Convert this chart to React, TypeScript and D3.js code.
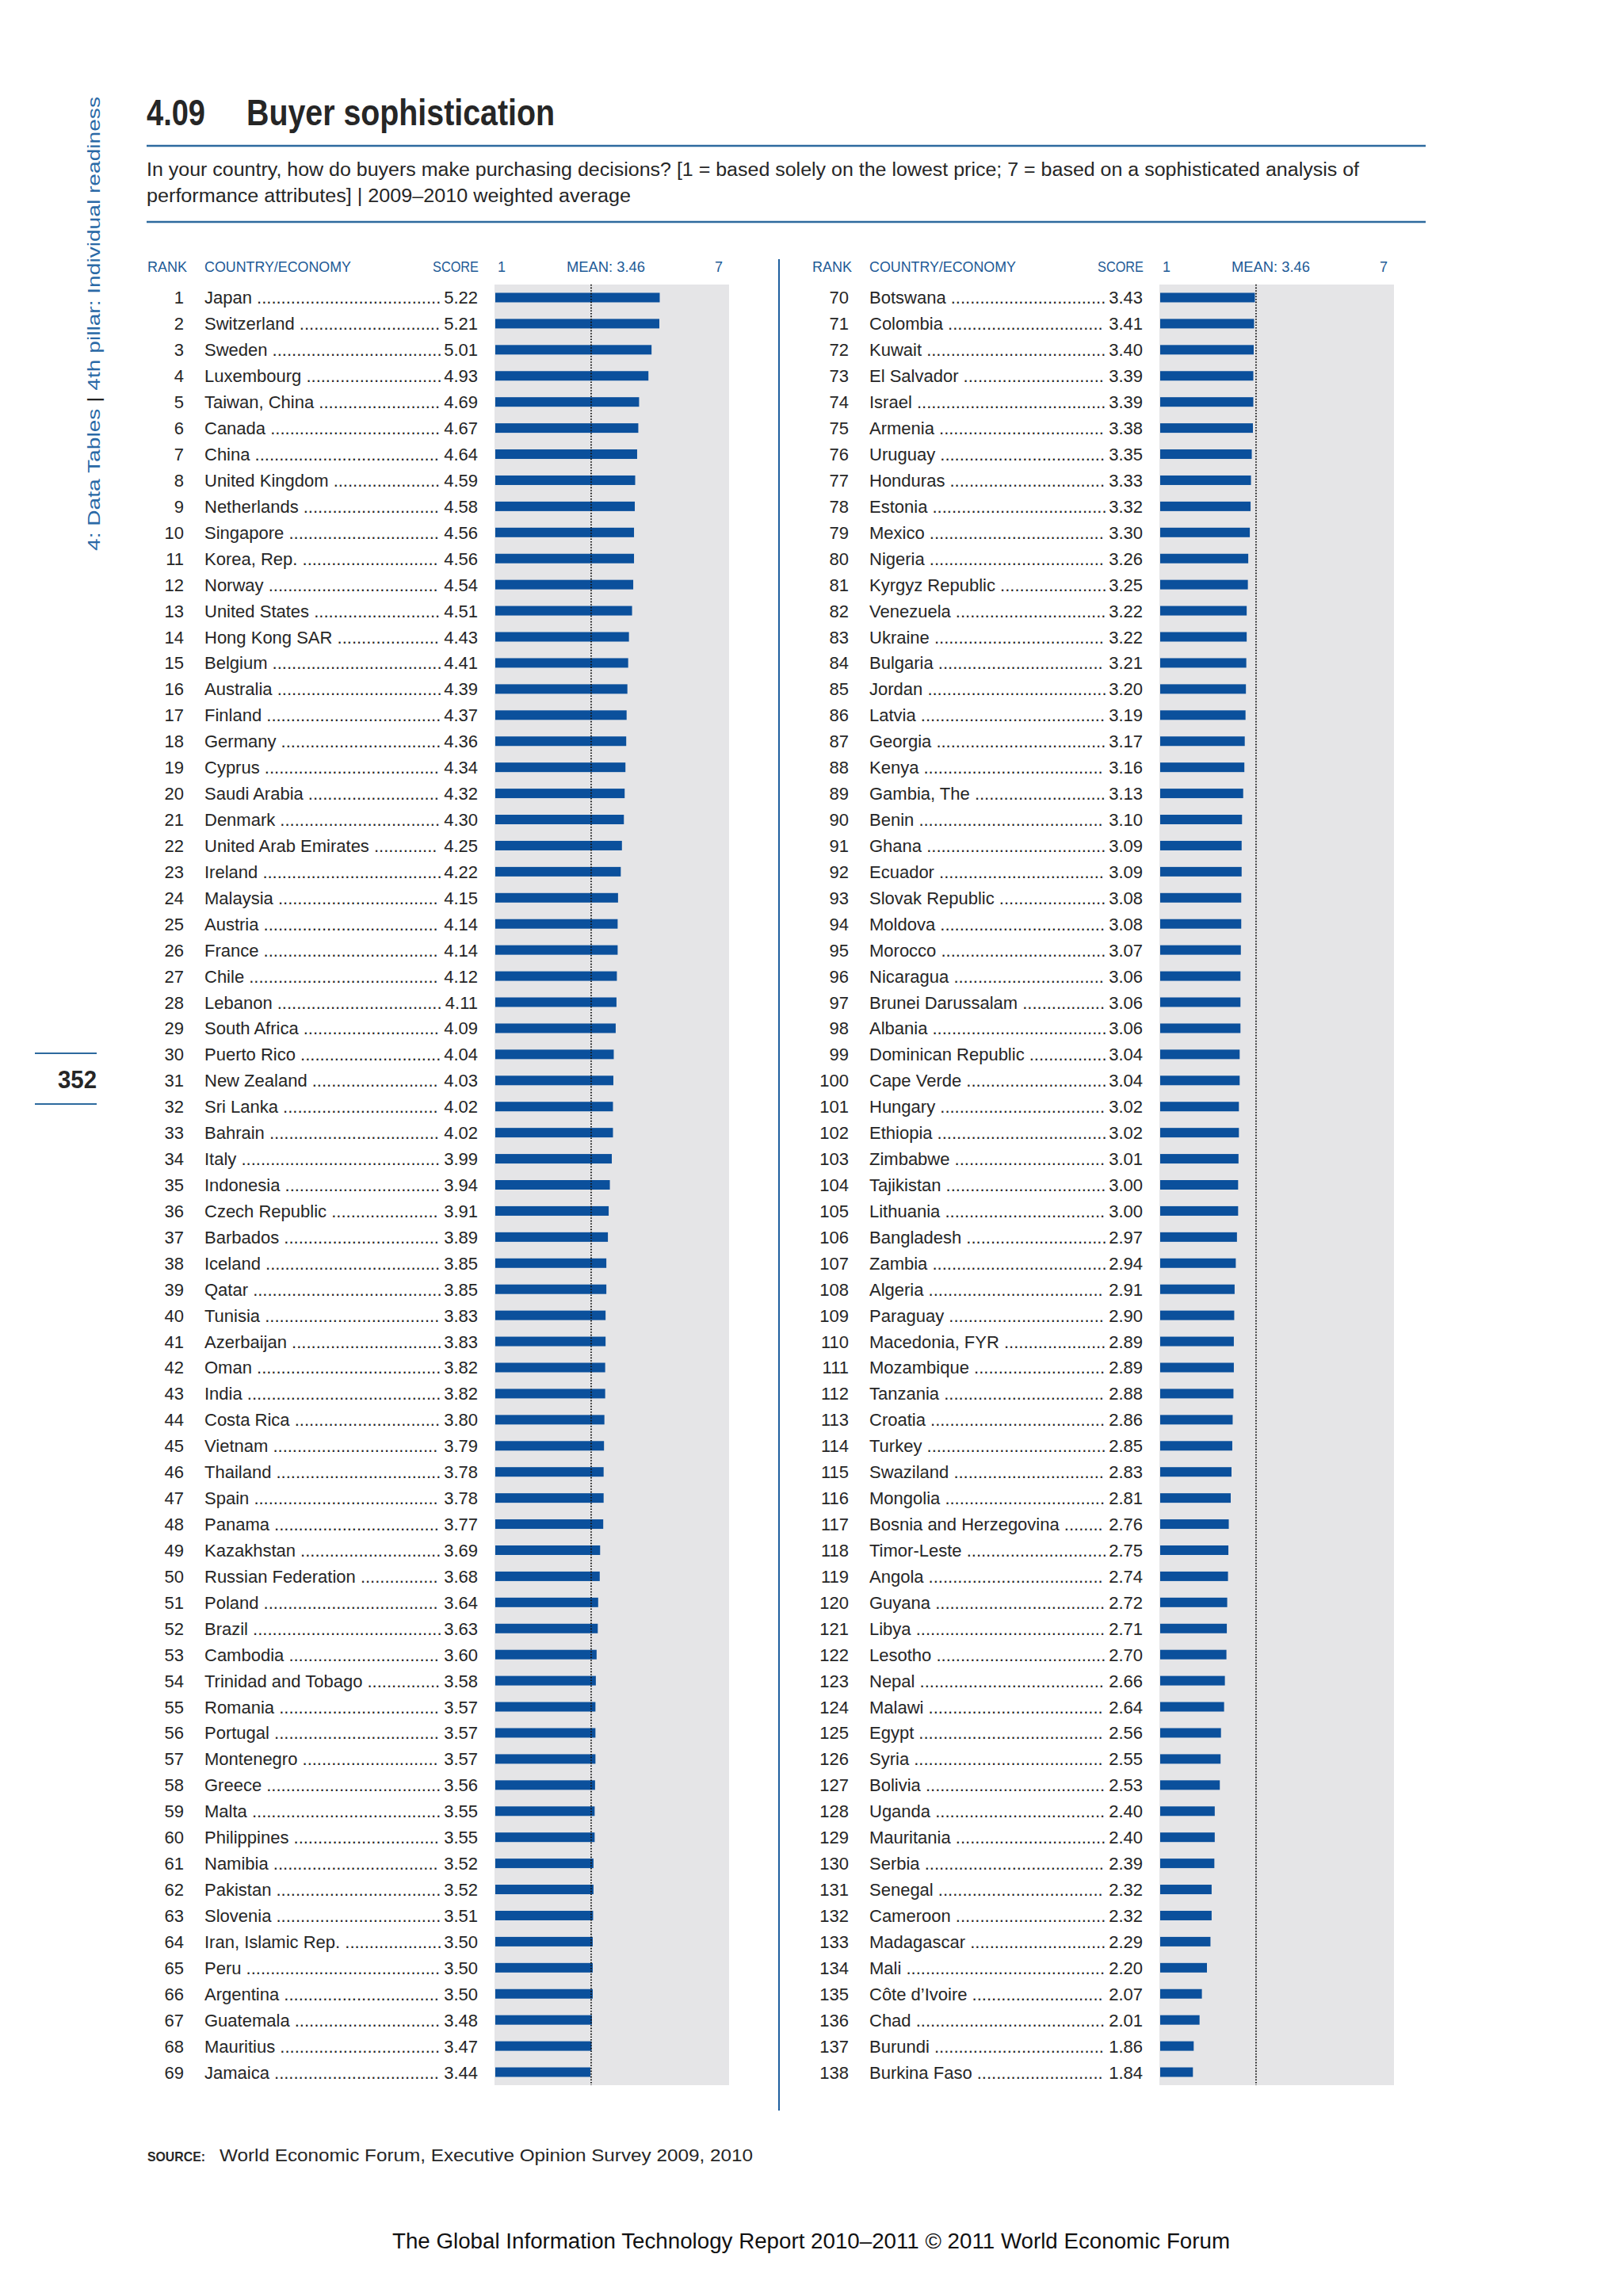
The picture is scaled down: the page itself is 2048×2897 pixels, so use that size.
import React from 'react';
import * as d3 from 'd3';

const COUNTRIES: string[] = [
  'Japan','Switzerland','Sweden','Luxembourg','Taiwan, China','Canada','China','United Kingdom','Netherlands','Singapore',
  'Korea, Rep.','Norway','United States','Hong Kong SAR','Belgium','Australia','Finland','Germany','Cyprus','Saudi Arabia',
  'Denmark','United Arab Emirates','Ireland','Malaysia','Austria','France','Chile','Lebanon','South Africa','Puerto Rico',
  'New Zealand','Sri Lanka','Bahrain','Italy','Indonesia','Czech Republic','Barbados','Iceland','Qatar','Tunisia',
  'Azerbaijan','Oman','India','Costa Rica','Vietnam','Thailand','Spain','Panama','Kazakhstan','Russian Federation',
  'Poland','Brazil','Cambodia','Trinidad and Tobago','Romania','Portugal','Montenegro','Greece','Malta','Philippines',
  'Namibia','Pakistan','Slovenia','Iran, Islamic Rep.','Peru','Argentina','Guatemala','Mauritius','Jamaica',
  'Botswana','Colombia','Kuwait','El Salvador','Israel','Armenia','Uruguay','Honduras','Estonia','Mexico',
  'Nigeria','Kyrgyz Republic','Venezuela','Ukraine','Bulgaria','Jordan','Latvia','Georgia','Kenya','Gambia, The',
  'Benin','Ghana','Ecuador','Slovak Republic','Moldova','Morocco','Nicaragua','Brunei Darussalam','Albania','Dominican Republic',
  'Cape Verde','Hungary','Ethiopia','Zimbabwe','Tajikistan','Lithuania','Bangladesh','Zambia','Algeria','Paraguay',
  'Macedonia, FYR','Mozambique','Tanzania','Croatia','Turkey','Swaziland','Mongolia','Bosnia and Herzegovina','Timor-Leste','Angola',
  'Guyana','Libya','Lesotho','Nepal','Malawi','Egypt','Syria','Bolivia','Uganda','Mauritania',
  'Serbia','Senegal','Cameroon','Madagascar','Mali','Côte d’Ivoire','Chad','Burundi','Burkina Faso'
];

const SCORES: number[] = [
  5.22,5.21,5.01,4.93,4.69,4.67,4.64,4.59,4.58,4.56,
  4.56,4.54,4.51,4.43,4.41,4.39,4.37,4.36,4.34,4.32,
  4.30,4.25,4.22,4.15,4.14,4.14,4.12,4.11,4.09,4.04,
  4.03,4.02,4.02,3.99,3.94,3.91,3.89,3.85,3.85,3.83,
  3.83,3.82,3.82,3.80,3.79,3.78,3.78,3.77,3.69,3.68,
  3.64,3.63,3.60,3.58,3.57,3.57,3.57,3.56,3.55,3.55,
  3.52,3.52,3.51,3.50,3.50,3.50,3.48,3.47,3.44,
  3.43,3.41,3.40,3.39,3.39,3.38,3.35,3.33,3.32,3.30,
  3.26,3.25,3.22,3.22,3.21,3.20,3.19,3.17,3.16,3.13,
  3.10,3.09,3.09,3.08,3.08,3.07,3.06,3.06,3.06,3.04,
  3.04,3.02,3.02,3.01,3.00,3.00,2.97,2.94,2.91,2.90,
  2.89,2.89,2.88,2.86,2.85,2.83,2.81,2.76,2.75,2.74,
  2.72,2.71,2.70,2.66,2.64,2.56,2.55,2.53,2.40,2.40,
  2.39,2.32,2.32,2.29,2.20,2.07,2.01,1.86,1.84
];

const HEADERS: string[] = ['RANK', 'COUNTRY/ECONOMY', 'SCORE'];
const AXIS_LABELS: string[] = ['1', 'MEAN: 3.46', '7'];
const MEAN = 3.46;
const SCALE_DOMAIN: number[] = [1, 7];

const TITLE_NUM = '4.09';
const TITLE = 'Buyer sophistication';
const SUB1 = 'In your country, how do buyers make purchasing decisions? [1 = based solely on the lowest price; 7 = based on a sophisticated analysis of';
const SUB2 = 'performance attributes]  |  2009–2010 weighted average';
const SOURCE_TEXT = 'World Economic Forum, Executive Opinion Survey 2009, 2010';
const FOOTER = 'The Global Information Technology Report 2010–2011 © 2011 World Economic Forum';

const BLUE = '#0b509c';
const RULE = '#2d6a9e';
const HEAD = '#1d5a96';
const GRAY = '#e5e5e7';
const INK = '#262626';
const FONT = '"Liberation Sans", Arial, sans-serif';
const ROW_FONT_SIZE = 22;

let measureCtx: CanvasRenderingContext2D | null = null;
function textWidth(s: string): number {
  if (!measureCtx && typeof document !== 'undefined') {
    const c = document.createElement('canvas');
    measureCtx = c.getContext('2d');
  }
  if (!measureCtx) return s.length * ROW_FONT_SIZE * 0.5;
  measureCtx.font = `${ROW_FONT_SIZE}px "Liberation Sans", Arial, sans-serif`;
  return measureCtx.measureText(s).width;
}

function leader(name: string, startX: number, endX: number): string {
  const base = name + ' ';
  const w = textWidth(base);
  const dw = textWidth('.') || 6;
  const n = Math.max(0, Math.floor((endX - startX - w) / dw));
  return base + '.'.repeat(n);
}

export default function App() {
  const rowsPerPanel = 69;
  const x = d3.scaleLinear().domain(SCALE_DOMAIN).range([625, 920]);
  const y = d3.scaleBand<number>().domain(d3.range(rowsPerPanel)).range([359, 2631]);
  const panels = [
    { dx: 0, start: 0 },
    { dx: 839, start: rowsPerPanel },
  ];
  const barH = 12;
  const nameX = 258;
  const dotsEnd = 558;

  return (
    <svg width={2048} height={2897} style={{ position: 'absolute', left: 0, top: 0, background: '#fff' }} fontFamily={FONT}>
      <rect width={2048} height={2897} fill="#fff" />

      {/* Sidebar */}
      <text transform="translate(126,695) rotate(-90)" fontSize={22} fill="#2a69a6" textLength={573} lengthAdjust="spacingAndGlyphs">
        4: Data Tables
        <tspan fill="#222">{'   |   '}</tspan>
        4th pillar: Individual readiness
      </text>
      <line x1={44} x2={122} y1={1329} y2={1329} stroke={RULE} strokeWidth={2} />
      <line x1={44} x2={122} y1={1393} y2={1393} stroke={RULE} strokeWidth={2} />
      <text x={122} y={1373} textAnchor="end" fontSize={32} fontWeight="bold" fill={INK} textLength={49} lengthAdjust="spacingAndGlyphs">352</text>

      {/* Title */}
      <text x={185} y={158} fontSize={46} fontWeight="bold" fill={INK} textLength={74} lengthAdjust="spacingAndGlyphs">{TITLE_NUM}</text>
      <text x={311} y={158} fontSize={46} fontWeight="bold" fill={INK} textLength={389} lengthAdjust="spacingAndGlyphs">{TITLE}</text>
      <line x1={185} x2={1799} y1={184} y2={184} stroke={RULE} strokeWidth={2.5} />
      <text x={185} y={222} fontSize={23} fill={INK} textLength={1530} lengthAdjust="spacingAndGlyphs">{SUB1}</text>
      <text x={185} y={255} fontSize={23} fill={INK} textLength={611} lengthAdjust="spacingAndGlyphs">{SUB2}</text>
      <line x1={185} x2={1799} y1={280} y2={280} stroke={RULE} strokeWidth={2.5} />

      {/* Divider */}
      <line x1={983} x2={983} y1={327} y2={2663} stroke="#1f5f9f" strokeWidth={2} />

      {panels.map((p, pi) => {
        const names = COUNTRIES.slice(p.start, p.start + rowsPerPanel);
        const vals = SCORES.slice(p.start, p.start + rowsPerPanel);
        const [y0, y1] = y.range();
        return (
          <g key={pi} transform={`translate(${p.dx},0)`}>
            <text x={186} y={343} fontSize={18} fill={HEAD}>{HEADERS[0]}</text>
            <text x={258} y={343} fontSize={18} fill={HEAD} textLength={185} lengthAdjust="spacingAndGlyphs">{HEADERS[1]}</text>
            <text x={604} y={343} fontSize={18} fill={HEAD} textAnchor="end" textLength={58} lengthAdjust="spacingAndGlyphs">{HEADERS[2]}</text>
            <text x={x(1) + 3} y={343} fontSize={18} fill={HEAD}>{AXIS_LABELS[0]}</text>
            <text x={715} y={343} fontSize={18} fill={HEAD} textLength={99} lengthAdjust="spacingAndGlyphs">{AXIS_LABELS[1]}</text>
            <text x={x(7) - 8} y={343} fontSize={18} fill={HEAD} textAnchor="end">{AXIS_LABELS[2]}</text>

            <rect x={x(1) - 1} y={y0} width={x(7) - x(1) + 1} height={y1 - y0} fill={GRAY} />

            {vals.map((v, i) => {
              const cy = (y(i) as number) + y.bandwidth() / 2;
              return (
                <g key={i}>
                  <text x={232} y={cy + 8} fontSize={ROW_FONT_SIZE} fill={INK} textAnchor="end">{p.start + i + 1}</text>
                  <text x={nameX} y={cy + 8} fontSize={ROW_FONT_SIZE} fill={INK}>{leader(names[i], nameX, dotsEnd)}</text>
                  <text x={603} y={cy + 8} fontSize={ROW_FONT_SIZE} fill={INK} textAnchor="end">{v.toFixed(2)}</text>
                  <rect x={x(1)} y={cy - barH / 2} width={x(v) - x(1)} height={barH} fill={BLUE} />
                </g>
              );
            })}

            <line x1={x(MEAN)} x2={x(MEAN)} y1={y0} y2={y1} stroke="#111" strokeWidth={1.8} strokeDasharray="1.6,2" />
          </g>
        );
      })}

      {/* Source */}
      <text x={186} y={2727} fontSize={17} fontWeight="bold" fill={INK} textLength={73} lengthAdjust="spacingAndGlyphs">SOURCE:</text>
      <text x={277} y={2727} fontSize={22} fill={INK} textLength={673} lengthAdjust="spacingAndGlyphs">{SOURCE_TEXT}</text>

      {/* Footer */}
      <text x={495} y={2837} fontSize={27} fill="#111" textLength={1057} lengthAdjust="spacingAndGlyphs">{FOOTER}</text>
    </svg>
  );
}
